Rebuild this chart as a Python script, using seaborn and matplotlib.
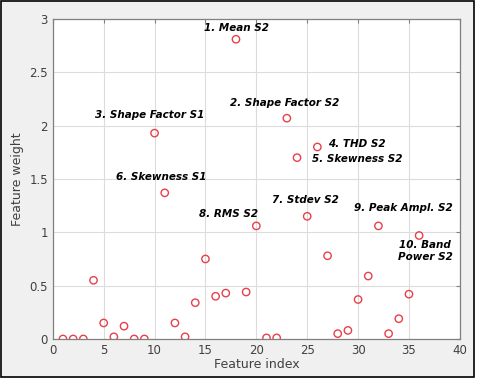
import matplotlib
matplotlib.use("Agg")
import matplotlib.pyplot as plt
import pandas as pd
import seaborn as sns

# feature weights
feature_index = list(range(1, 37))
feature_weight = [
    0.00, 0.00, 0.00, 0.55, 0.15, 0.02, 0.12, 0.00, 0.00, 1.93,
    1.37, 0.15, 0.02, 0.34, 0.75, 0.40, 0.43, 2.81, 0.44, 1.06,
    0.01, 0.01, 2.07, 1.70, 1.15, 1.80, 0.78, 0.05, 0.08, 0.37,
    0.59, 1.06, 0.05, 0.19, 0.42, 0.97,
]

label_texts = [
    "1. Mean S2", "2. Shape Factor S2", "3. Shape Factor S1", "4. THD S2",
    "5. Skewness S2", "6. Skewness S1", "7. Stdev S2", "8. RMS S2",
    "9. Peak Ampl. S2", "10. Band\nPower S2",
]
label_x = [18.1, 22.8, 9.5, 27.0, 29.9, 10.7, 24.8, 17.3, 34.5, 36.6]
label_y = [2.915, 2.21, 2.10, 1.83, 1.69, 1.52, 1.30, 1.175, 1.225, 0.825]
label_ha = ["center", "center", "center", "left", "center",
            "center", "center", "center", "center", "center"]

df = pd.DataFrame({"Feature index": feature_index,
                   "Feature weight": feature_weight})

sns.set_style("white")
fig = plt.figure(figsize=(4.8, 3.8), dpi=100, facecolor="white")

# grey MATLAB-like figure panel with a dark frame
fig.patches.append(plt.Rectangle((1 / 480, 3 / 380), 473 / 480, 376 / 380,
                                 transform=fig.transFigure, fill=True,
                                 facecolor="#f0f0f0", edgecolor="black",
                                 linewidth=1.2, zorder=-5))

ax = fig.add_axes([0.110, 0.108, 0.848, 0.842])
ax.set_facecolor("white")

sns.scatterplot(data=df, x="Feature index", y="Feature weight", ax=ax,
                marker="o", s=28, facecolor="none", edgecolor="#e8404a",
                linewidth=1.0)

ax.set_xlim(0, 40)
ax.set_ylim(0, 3)
ax.set_xticks(range(0, 41, 5))
ax.set_yticks([0, 0.5, 1, 1.5, 2, 2.5, 3])
ax.set_yticklabels(["0", "0.5", "1", "1.5", "2", "2.5", "3"])
ax.grid(True, color="#dcdcdc", linewidth=0.8)
ax.tick_params(direction="in", length=3, top=True, right=True,
               labelsize=8.5, colors="#808080", labelcolor="#404040")
for sp in ax.spines.values():
    sp.set_color("#808080")
    sp.set_linewidth(0.9)
ax.set_xlabel("Feature index", fontsize=9, color="#404040", labelpad=1)
ax.set_ylabel("Feature weight", fontsize=9, color="#404040", labelpad=4)

for txt, tx, ty, ha in zip(label_texts, label_x, label_y, label_ha):
    ax.text(tx, ty, txt, ha=ha, va="center", fontsize=7.5,
            fontweight="bold", fontstyle="italic", color="black",
            multialignment="center", linespacing=1.2)

fig.savefig("out.png", dpi=100, facecolor="white")
